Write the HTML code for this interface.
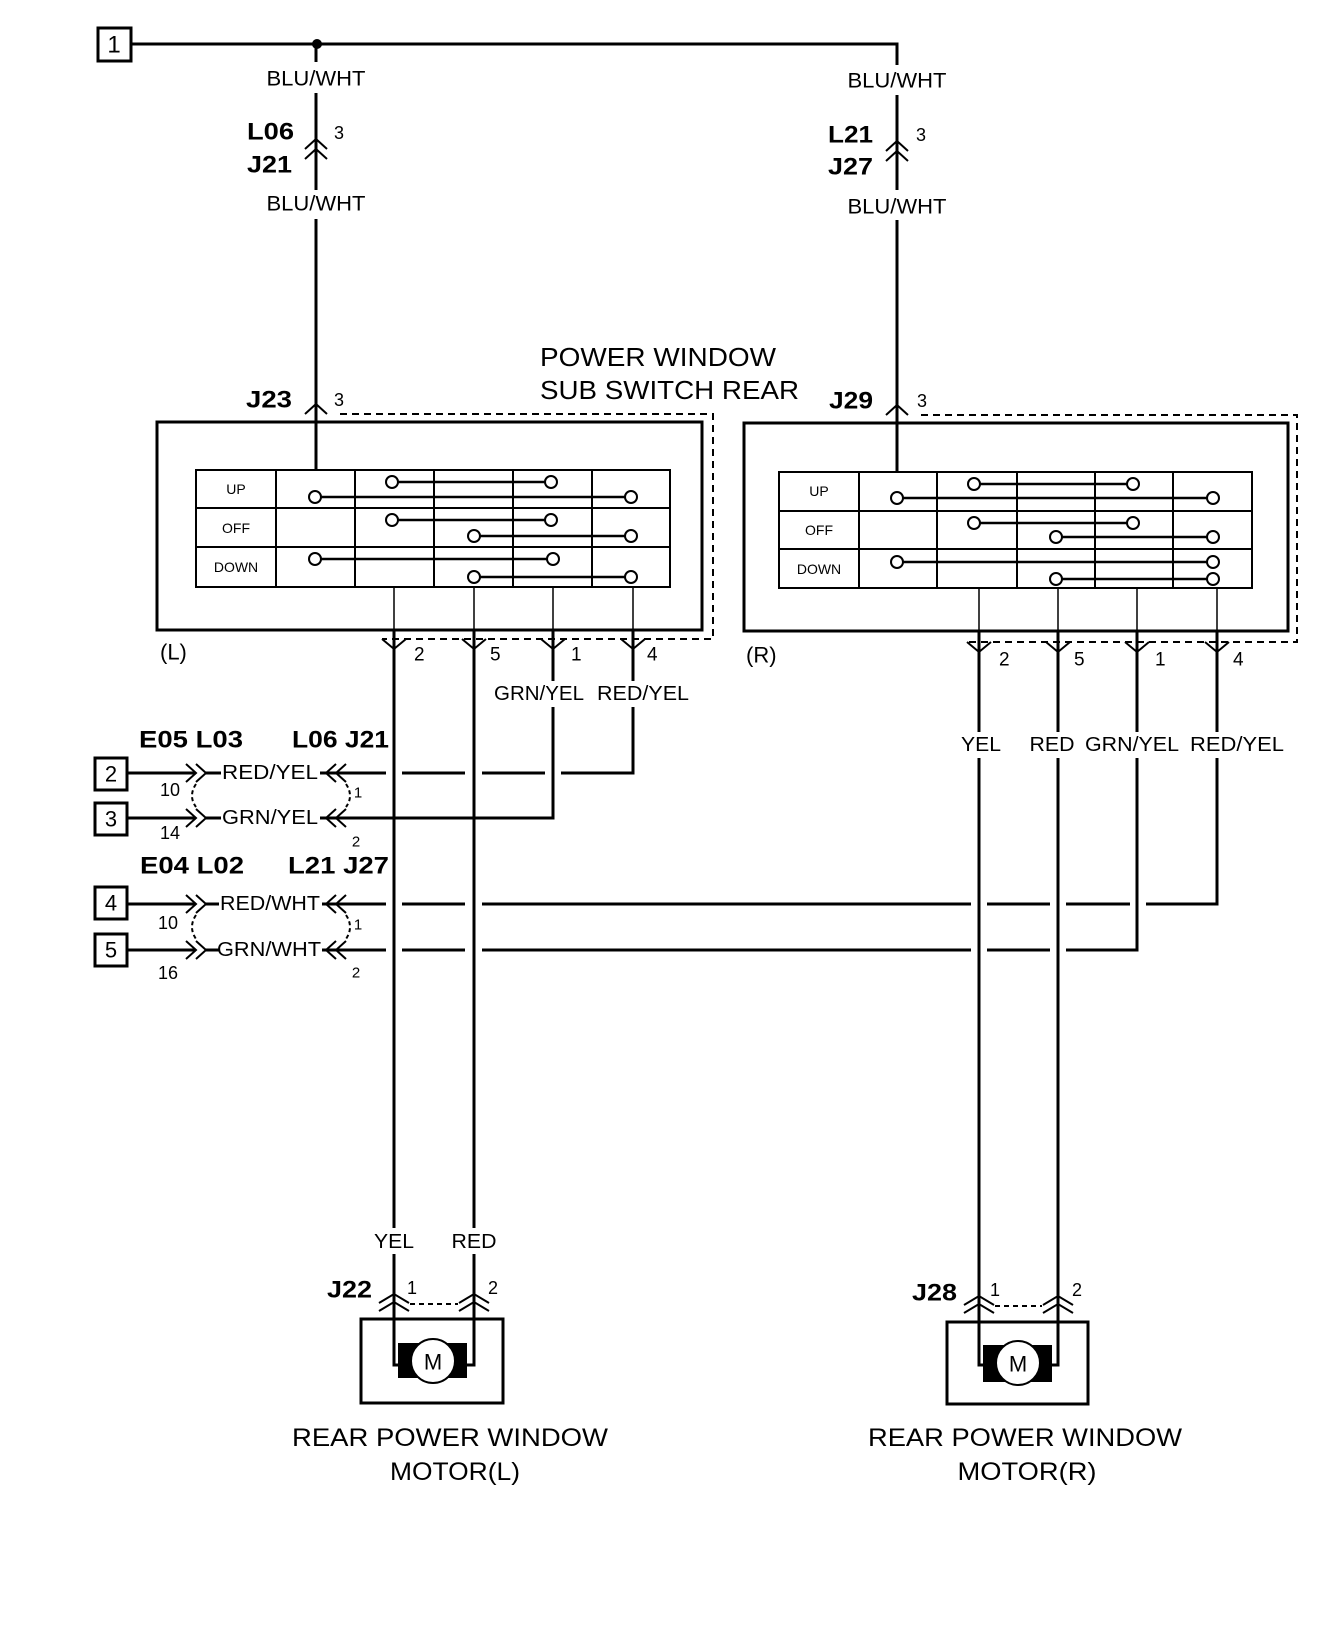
<!DOCTYPE html>
<html><head><meta charset="utf-8"><style>
html,body{margin:0;padding:0;background:#fff;}
svg{display:block;}
text{font-family:"Liberation Sans",Arial,sans-serif;fill:#000;dominant-baseline:central;}
.b{font-weight:bold;}
</style></head><body>
<svg width="1344" height="1632" viewBox="0 0 1344 1632" xmlns="http://www.w3.org/2000/svg">
<g stroke="#000" fill="none" stroke-width="3">
<rect x="98" y="28" width="33" height="33" stroke-width="3"/>
<path d="M131 44 H897 V65"/>
<path d="M897 95 V190 M897 220 V472"/>
<path d="M316 44 V62 M316 93 V190 M316 219 V470"/>
</g>
<circle cx="317" cy="44" r="5" fill="#000"/>
<text x="114" y="45" font-size="24" text-anchor="middle">1</text>
<text x="316" y="79" font-size="21" text-anchor="middle" textLength="99" lengthAdjust="spacingAndGlyphs">BLU/WHT</text>
<text x="316" y="204" font-size="21" text-anchor="middle" textLength="99" lengthAdjust="spacingAndGlyphs">BLU/WHT</text>
<text x="247" y="132" font-size="24" class="b" textLength="47" lengthAdjust="spacingAndGlyphs">L06</text>
<text x="247" y="165" font-size="24" class="b" textLength="45" lengthAdjust="spacingAndGlyphs">J21</text>
<text x="334" y="133" font-size="18">3</text>
<text x="897" y="81" font-size="21" text-anchor="middle" textLength="99" lengthAdjust="spacingAndGlyphs">BLU/WHT</text>
<text x="897" y="207" font-size="21" text-anchor="middle" textLength="99" lengthAdjust="spacingAndGlyphs">BLU/WHT</text>
<text x="828" y="135" font-size="24" class="b" textLength="45" lengthAdjust="spacingAndGlyphs">L21</text>
<text x="828" y="167" font-size="24" class="b" textLength="45" lengthAdjust="spacingAndGlyphs">J27</text>
<text x="916" y="135" font-size="18">3</text>
<g stroke="#000" fill="none" stroke-width="2">
<path d="M305 149 L316 139 L327 149 M305 159 L316 149 L327 159"/>
<path d="M886 151 L897 141 L908 151 M886 161 L897 151 L908 161"/>
<path d="M305 414 L316 404 L327 414"/>
<path d="M886 415 L897 405 L908 415"/>
</g>
<text x="246" y="400" font-size="24" class="b" textLength="46" lengthAdjust="spacingAndGlyphs">J23</text>
<text x="334" y="400" font-size="18">3</text>
<text x="829" y="401" font-size="24" class="b" textLength="44" lengthAdjust="spacingAndGlyphs">J29</text>
<text x="917" y="401" font-size="18">3</text>
<text x="540" y="357" font-size="26" textLength="236" lengthAdjust="spacingAndGlyphs">POWER WINDOW</text>
<text x="540" y="390" font-size="26" textLength="259" lengthAdjust="spacingAndGlyphs">SUB SWITCH REAR</text>
<g stroke="#000" fill="none" stroke-width="2" stroke-dasharray="7,5">
<path d="M340 414 H713 V639 H382"/>
<path d="M921 415 H1297 V642 H967"/>
</g>
<g stroke="#000" fill="none" stroke-width="3">
<rect x="157" y="422" width="545" height="208"/>
<rect x="744" y="423" width="544" height="208"/>
</g>
<g stroke="#000" fill="none" stroke-width="2">
<rect x="196" y="470" width="474" height="117"/>
<path d="M196 508 H670 M196 547 H670"/>
<path d="M276 470 V587 M355 470 V587 M434 470 V587 M513 470 V587 M592 470 V587"/>
<path d="M392 482 H551 M315 497 H631 M392 520 H551 M474 536 H631 M315 559 H553 M474 577 H631" stroke-width="2.5"/>
<path d="M394 587 V630 M474 587 V630 M553 587 V630 M633 587 V630" stroke-width="1.5"/>
</g>
<g stroke="#000" fill="#fff" stroke-width="2">
<circle cx="392" cy="482" r="6"/><circle cx="551" cy="482" r="6"/>
<circle cx="315" cy="497" r="6"/><circle cx="631" cy="497" r="6"/>
<circle cx="392" cy="520" r="6"/><circle cx="551" cy="520" r="6"/>
<circle cx="474" cy="536" r="6"/><circle cx="631" cy="536" r="6"/>
<circle cx="315" cy="559" r="6"/><circle cx="553" cy="559" r="6"/>
<circle cx="474" cy="577" r="6"/><circle cx="631" cy="577" r="6"/>
</g>
<text x="236" y="489" font-size="14" text-anchor="middle">UP</text>
<text x="236" y="528" font-size="14" text-anchor="middle">OFF</text>
<text x="236" y="567" font-size="14" text-anchor="middle">DOWN</text>
<g stroke="#000" fill="none" stroke-width="2">
<rect x="779" y="472" width="473" height="116"/>
<path d="M779 511 H1252 M779 549 H1252"/>
<path d="M859 472 V588 M937 472 V588 M1017 472 V588 M1095 472 V588 M1173 472 V588"/>
<path d="M974 484 H1133 M897 498 H1213 M974 523 H1133 M1056 537 H1213 M897 562 H1213 M1056 579 H1213" stroke-width="2.5"/>
<path d="M979 588 V631 M1058 588 V631 M1137 588 V631 M1217 588 V631" stroke-width="1.5"/>
</g>
<g stroke="#000" fill="#fff" stroke-width="2">
<circle cx="974" cy="484" r="6"/><circle cx="1133" cy="484" r="6"/>
<circle cx="897" cy="498" r="6"/><circle cx="1213" cy="498" r="6"/>
<circle cx="974" cy="523" r="6"/><circle cx="1133" cy="523" r="6"/>
<circle cx="1056" cy="537" r="6"/><circle cx="1213" cy="537" r="6"/>
<circle cx="897" cy="562" r="6"/><circle cx="1213" cy="562" r="6"/>
<circle cx="1056" cy="579" r="6"/><circle cx="1213" cy="579" r="6"/>
</g>
<text x="819" y="491" font-size="14" text-anchor="middle">UP</text>
<text x="819" y="530" font-size="14" text-anchor="middle">OFF</text>
<text x="819" y="569" font-size="14" text-anchor="middle">DOWN</text>
<text x="160" y="652" font-size="22">(L)</text>
<text x="746" y="655" font-size="22">(R)</text>
<g stroke="#000" fill="none" stroke-width="2">
<path d="M382 639 L394 649 L406 639 M462 639 L474 649 L486 639 M541 639 L553 649 L565 639 M621 639 L633 649 L645 639"/>
<path d="M967 642 L979 652 L991 642 M1046 642 L1058 652 L1070 642 M1125 642 L1137 652 L1149 642 M1205 642 L1217 652 L1229 642"/>
</g>
<g font-size="19">
<text x="414" y="655">2</text><text x="490" y="655">5</text><text x="571" y="655">1</text><text x="647" y="655">4</text>
<text x="999" y="660">2</text><text x="1074" y="660">5</text><text x="1155" y="660">1</text><text x="1233" y="660">4</text>
</g>
<g stroke="#000" fill="none" stroke-width="3">
<path d="M394 630 V1228 M394 1254 V1365 H398"/>
<path d="M474 630 V1228 M474 1254 V1365 H467"/>
<path d="M553 630 V681 M553 707 V818 H351"/>
<path d="M633 630 V681 M633 707 V773 H561 M545 773 H482 M465 773 H402 M386 773 H351"/>
<path d="M979 631 V732 M979 758 V1365 H983"/>
<path d="M1058 631 V732 M1058 758 V1365 H1052"/>
<path d="M1137 631 V732 M1137 758 V950 H1066 M1050 950 H987 M971 950 H482 M465 950 H402 M386 950 H351"/>
<path d="M1217 631 V732 M1217 758 V904 H1146 M1130 904 H1066 M1050 904 H987 M971 904 H482 M465 904 H402 M386 904 H351"/>
<path d="M127 773 H196 M127 818 H196 M127 904 H196 M127 950 H196"/>
<rect x="95" y="758" width="32" height="32"/>
<rect x="95" y="803" width="32" height="32"/>
<rect x="95" y="887" width="32" height="32"/>
<rect x="95" y="934" width="32" height="32"/>
</g>
<g font-size="22" text-anchor="middle">
<text x="111" y="774">2</text><text x="111" y="819">3</text><text x="111" y="903">4</text><text x="111" y="950">5</text>
</g>
<text x="539" y="694" font-size="20" text-anchor="middle" textLength="90" lengthAdjust="spacingAndGlyphs">GRN/YEL</text>
<text x="643" y="694" font-size="20" text-anchor="middle" textLength="92" lengthAdjust="spacingAndGlyphs">RED/YEL</text>
<text x="981" y="745" font-size="20" text-anchor="middle" textLength="40" lengthAdjust="spacingAndGlyphs">YEL</text>
<text x="1052" y="745" font-size="20" text-anchor="middle" textLength="45" lengthAdjust="spacingAndGlyphs">RED</text>
<text x="1132" y="745" font-size="20" text-anchor="middle" textLength="94" lengthAdjust="spacingAndGlyphs">GRN/YEL</text>
<text x="1237" y="745" font-size="20" text-anchor="middle" textLength="94" lengthAdjust="spacingAndGlyphs">RED/YEL</text>
<text x="139" y="740" font-size="24" class="b" textLength="104" lengthAdjust="spacingAndGlyphs">E05 L03</text>
<text x="292" y="740" font-size="24" class="b" textLength="97" lengthAdjust="spacingAndGlyphs">L06 J21</text>
<text x="140" y="866" font-size="24" class="b" textLength="104" lengthAdjust="spacingAndGlyphs">E04 L02</text>
<text x="288" y="866" font-size="24" class="b" textLength="101" lengthAdjust="spacingAndGlyphs">L21 J27</text>
<g stroke="#000" fill="none" stroke-width="3">
<path d="M206 773 H221 M320 773 H351 M206 818 H221 M320 818 H351 M206 904 H219 M322 904 H351 M206 950 H219 M322 950 H351"/>
</g>
<g stroke="#000" fill="none" stroke-width="2">
<path d="M186 764 L196 773 L186 782 M196 764 L206 773 L196 782"/>
<path d="M186 809 L196 818 L186 827 M196 809 L206 818 L196 827"/>
<path d="M186 895 L196 904 L186 913 M196 895 L206 904 L196 913"/>
<path d="M186 941 L196 950 L186 959 M196 941 L206 950 L196 959"/>
<path d="M336 764 L326 773 L336 782 M346 764 L336 773 L346 782"/>
<path d="M336 809 L326 818 L336 827 M346 809 L336 818 L346 827"/>
<path d="M336 895 L326 904 L336 913 M346 895 L336 904 L346 913"/>
<path d="M336 941 L326 950 L336 959 M346 941 L336 950 L346 959"/>
<path d="M196 784 Q188 796 196 807 M196 915 Q188 927 196 939 M346 784 Q354 796 346 807 M346 915 Q354 927 346 939" stroke-dasharray="4,3"/>
</g>
<g font-size="20" text-anchor="middle">
<text x="270" y="773" textLength="96" lengthAdjust="spacingAndGlyphs">RED/YEL</text>
<text x="270" y="818" textLength="96" lengthAdjust="spacingAndGlyphs">GRN/YEL</text>
<text x="270" y="904" textLength="100" lengthAdjust="spacingAndGlyphs">RED/WHT</text>
<text x="269" y="950" textLength="104" lengthAdjust="spacingAndGlyphs">GRN/WHT</text>
</g>
<g font-size="18" text-anchor="middle">
<text x="170" y="790">10</text><text x="170" y="833">14</text><text x="168" y="923">10</text><text x="168" y="973">16</text>
</g>
<g font-size="15" text-anchor="middle">
<text x="358" y="793">1</text><text x="356" y="842">2</text><text x="358" y="925">1</text><text x="356" y="973">2</text>
</g>
<text x="394" y="1242" font-size="20" text-anchor="middle" textLength="40" lengthAdjust="spacingAndGlyphs">YEL</text>
<text x="474" y="1242" font-size="20" text-anchor="middle" textLength="45" lengthAdjust="spacingAndGlyphs">RED</text>
<text x="327" y="1290" font-size="24" class="b" textLength="45" lengthAdjust="spacingAndGlyphs">J22</text>
<text x="912" y="1293" font-size="24" class="b" textLength="45" lengthAdjust="spacingAndGlyphs">J28</text>
<g font-size="18"><text x="407" y="1288">1</text><text x="488" y="1288">2</text><text x="990" y="1290">1</text><text x="1072" y="1290">2</text></g>
<g stroke="#000" fill="none" stroke-width="2">
<path d="M379 1303 L394 1294 L409 1303 M379 1311 L394 1302 L409 1311"/>
<path d="M459 1303 L474 1294 L489 1303 M459 1311 L474 1302 L489 1311"/>
<path d="M964 1305 L979 1296 L994 1305 M964 1313 L979 1304 L994 1313"/>
<path d="M1043 1305 L1058 1296 L1073 1305 M1043 1313 L1058 1304 L1073 1313"/>
<path d="M410 1304 H458 M995 1306 H1042" stroke-dasharray="5,4"/>
</g>
<g stroke="#000" fill="none" stroke-width="3">
<rect x="361" y="1319" width="142" height="84"/>
<rect x="947" y="1322" width="141" height="82"/>
</g>
<rect x="398" y="1343" width="69" height="35" fill="#000"/>
<rect x="983" y="1345" width="69" height="37" fill="#000"/>
<circle cx="433" cy="1361" r="22" fill="#fff" stroke="#000" stroke-width="2"/>
<circle cx="1018" cy="1363" r="22" fill="#fff" stroke="#000" stroke-width="2"/>
<text x="433" y="1362" font-size="22" text-anchor="middle">M</text>
<text x="1018" y="1364" font-size="22" text-anchor="middle">M</text>
<text x="450" y="1438" font-size="25" text-anchor="middle" textLength="316" lengthAdjust="spacingAndGlyphs">REAR POWER WINDOW</text>
<text x="455" y="1472" font-size="25" text-anchor="middle" textLength="130" lengthAdjust="spacingAndGlyphs">MOTOR(L)</text>
<text x="1025" y="1438" font-size="25" text-anchor="middle" textLength="314" lengthAdjust="spacingAndGlyphs">REAR POWER WINDOW</text>
<text x="1027" y="1472" font-size="25" text-anchor="middle" textLength="139" lengthAdjust="spacingAndGlyphs">MOTOR(R)</text>
</svg>
</body></html>
